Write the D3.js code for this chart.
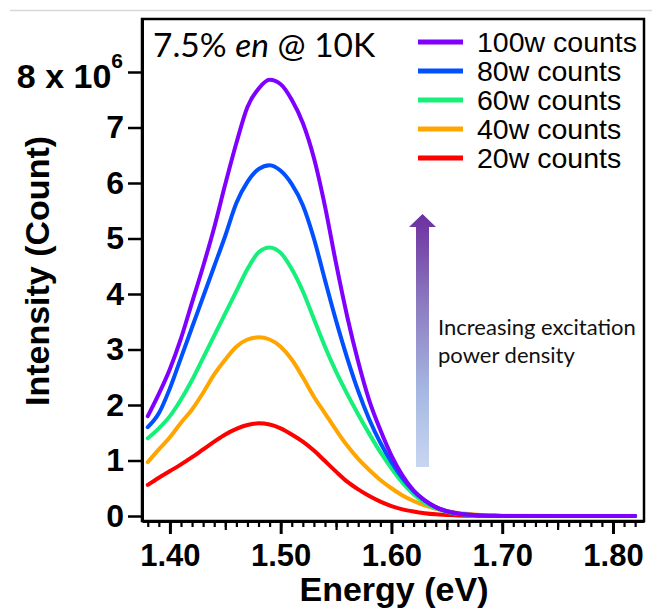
<!DOCTYPE html>
<html>
<head>
<meta charset="utf-8">
<script src="https://cdn.jsdelivr.net/npm/d3@7"></script>
<style>
  body { margin: 0; background: #fff; }
</style>
</head>
<body>
<div id="my_dataviz"></div>
<script>
// photon energy (eV)
var energy = [1.38, 1.39, 1.40, 1.41, 1.42, 1.43, 1.44, 1.45, 1.46, 1.47, 1.48,
  1.49, 1.50, 1.51, 1.52, 1.53, 1.54, 1.55, 1.56, 1.57, 1.58, 1.59, 1.60,
  1.61, 1.62, 1.63, 1.64, 1.65, 1.66, 1.67, 1.68, 1.69, 1.70, 1.75, 1.80, 1.82];

// intensity in units of 10^6 counts
var counts100 = [1.80, 2.20, 2.65, 3.20, 3.85, 4.50, 5.20, 5.98, 6.72, 7.37, 7.70,
  7.86, 7.78, 7.50, 7.08, 6.45, 5.58, 4.55, 3.60, 2.78, 2.08, 1.55, 1.09,
  0.73, 0.46, 0.28, 0.16, 0.085, 0.045, 0.022, 0.01, 0.005, 0, 0, 0, 0];
var counts80 = [1.60, 1.85, 2.30, 2.85, 3.40, 3.95, 4.50, 5.05, 5.64, 6.02, 6.25,
  6.32, 6.22, 5.98, 5.60, 5.00, 4.25, 3.52, 2.85, 2.25, 1.74, 1.32, 0.97,
  0.68, 0.45, 0.28, 0.16, 0.085, 0.045, 0.022, 0.01, 0.005, 0, 0, 0, 0];
var counts60 = [1.40, 1.58, 1.80, 2.10, 2.45, 2.85, 3.25, 3.65, 4.05, 4.45, 4.75,
  4.84, 4.74, 4.45, 4.05, 3.55, 3.05, 2.60, 2.20, 1.83, 1.48, 1.15, 0.86,
  0.60, 0.39, 0.24, 0.14, 0.075, 0.04, 0.02, 0.01, 0.005, 0, 0, 0, 0];
var counts40 = [0.97, 1.20, 1.42, 1.68, 1.92, 2.22, 2.55, 2.82, 3.05, 3.18, 3.22,
  3.18, 3.05, 2.82, 2.50, 2.15, 1.85, 1.55, 1.27, 1.03, 0.83, 0.65, 0.50,
  0.37, 0.27, 0.19, 0.13, 0.085, 0.055, 0.035, 0.02, 0.01, 0.005, 0, 0, 0];
var counts20 = [0.56, 0.69, 0.81, 0.93, 1.06, 1.20, 1.34, 1.47, 1.57, 1.64, 1.67,
  1.65, 1.58, 1.47, 1.34, 1.18, 0.99, 0.80, 0.62, 0.48, 0.36, 0.26, 0.18,
  0.12, 0.08, 0.05, 0.03, 0.02, 0.01, 0.005, 0, 0, 0, 0, 0, 0];

var seriesNames = ["100w counts", "80w counts", "60w counts", "40w counts", "20w counts"];
var seriesValues = [counts100, counts80, counts60, counts40, counts20];
var seriesColors = ["#8000ff", "#0050ff", "#14f07a", "#ffa500", "#ff0000"];

var xTicks = [1.40, 1.50, 1.60, 1.70, 1.80];
var yTicks = [0, 1, 2, 3, 4, 5, 6, 7, 8];

var W = 652, H = 609;
var plot = { left: 142, top: 19, right: 644, bottom: 521 };

var svg = d3.select("#my_dataviz")
  .append("svg")
  .attr("width", W)
  .attr("height", H);

// thin grey rule on top of the page
svg.append("line")
  .attr("x1", 10).attr("x2", W)
  .attr("y1", 10.5).attr("y2", 10.5)
  .attr("stroke", "#d8d8d8")
  .attr("stroke-width", 1.5);

var x = d3.scaleLinear()
  .domain([1.3748, 1.828])
  .range([plot.left, plot.right]);

var y = d3.scaleLinear()
  .domain([-0.09, 8.955])
  .range([plot.bottom, plot.top]);

var boldFont = "'Liberation Sans', Arial, Helvetica, sans-serif";
var softFont = "Lato, 'Open Sans', sans-serif";

// x axis: minor, medium and major ticks
var minorTicks = d3.range(138, 183).map(function (d) { return d / 100; });
var mediumTicks = [1.45, 1.55, 1.65, 1.75];

svg.append("g")
  .attr("transform", "translate(0," + plot.bottom + ")")
  .call(d3.axisBottom(x).tickValues(minorTicks).tickSize(6).tickSizeOuter(0).tickFormat(""))
  .call(function (g) {
    g.select(".domain").remove();
    g.selectAll("line").attr("stroke-width", 2.2);
  });

svg.append("g")
  .attr("transform", "translate(0," + plot.bottom + ")")
  .call(d3.axisBottom(x).tickValues(mediumTicks).tickSize(9).tickSizeOuter(0).tickFormat(""))
  .call(function (g) {
    g.select(".domain").remove();
    g.selectAll("line").attr("stroke-width", 2.2);
  });

svg.append("g")
  .attr("transform", "translate(0," + plot.bottom + ")")
  .call(d3.axisBottom(x).tickValues(xTicks).tickSize(13).tickSizeOuter(0)
    .tickPadding(10).tickFormat(d3.format(".2f")))
  .call(function (g) {
    g.select(".domain").attr("stroke-width", 3);
    g.selectAll("line").attr("stroke-width", 3);
    g.selectAll("text")
      .attr("font-family", boldFont)
      .attr("font-weight", "bold")
      .attr("font-size", 31)
      .attr("fill", "#000");
  });

// y axis
svg.append("g")
  .attr("transform", "translate(" + plot.left + ",0)")
  .call(d3.axisLeft(y).tickValues(yTicks).tickSize(14).tickSizeOuter(0)
    .tickPadding(4).tickFormat(function (d) { return d === 8 ? "" : d; }))
  .call(function (g) {
    g.select(".domain").attr("stroke-width", 3);
    g.selectAll("line").attr("stroke-width", 2.5);
    g.selectAll("text")
      .attr("font-family", boldFont)
      .attr("font-weight", "bold")
      .attr("font-size", 32)
      .attr("fill", "#000");
  });

var topLabel = svg.append("text")
  .attr("x", 123)
  .attr("y", y(8) + 16)
  .attr("text-anchor", "end")
  .attr("font-family", boldFont)
  .attr("font-weight", "bold")
  .attr("font-size", 34);
topLabel.append("tspan").text("8 x 10");
topLabel.append("tspan")
  .attr("font-size", 21)
  .attr("dy", -20)
  .text("6");

// frame
svg.append("rect")
  .attr("x", plot.left)
  .attr("y", plot.top)
  .attr("width", plot.right - plot.left)
  .attr("height", plot.bottom - plot.top)
  .attr("fill", "none")
  .attr("stroke", "#000")
  .attr("stroke-width", 2.5);

// axis titles
svg.append("text")
  .attr("x", 394)
  .attr("y", 601)
  .attr("text-anchor", "middle")
  .attr("font-family", boldFont)
  .attr("font-weight", "bold")
  .attr("font-size", 34)
  .text("Energy (eV)");

svg.append("text")
  .attr("transform", "translate(49,271) rotate(-90)")
  .attr("text-anchor", "middle")
  .attr("font-family", boldFont)
  .attr("font-weight", "bold")
  .attr("font-size", 34)
  .text("Intensity (Count)");

// spectra, weakest first so the strongest ends on top
var line = d3.line()
  .x(function (d) { return x(d[0]); })
  .y(function (d) { return y(d[1]); })
  .curve(d3.curveMonotoneX);

var order = [4, 3, 2, 1, 0];
svg.append("g")
  .selectAll("path")
  .data(order)
  .enter().append("path")
  .attr("d", function (i) {
    return line(energy.map(function (e, k) { return [e, seriesValues[i][k]]; }));
  })
  .attr("fill", "none")
  .attr("stroke", function (i) { return seriesColors[i]; })
  .attr("stroke-width", 4)
  .attr("stroke-linejoin", "round")
  .attr("stroke-linecap", "round");

// sample title
var title = svg.append("text")
  .attr("x", 153)
  .attr("y", 57)
  .attr("font-family", softFont)
  .attr("font-size", 33.5)
  .attr("fill", "#000");
title.append("tspan").text("7.5% ");
title.append("tspan").attr("font-style", "italic").text("en");
title.append("tspan").text(" @ 10K");

// legend
var legend = svg.append("g")
  .selectAll("g")
  .data(seriesNames)
  .enter().append("g")
  .attr("transform", function (d, i) { return "translate(418," + (42 + i * 29) + ")"; });

legend.append("line")
  .attr("x1", 0).attr("x2", 45)
  .attr("stroke", function (d, i) { return seriesColors[i]; })
  .attr("stroke-width", 5);

legend.append("text")
  .attr("x", 59)
  .attr("dy", "0.35em")
  .attr("font-family", boldFont)
  .attr("font-size", 28.5)
  .text(function (d) { return d; });

// gradient arrow
var defs = svg.append("defs");
var grad = defs.append("linearGradient")
  .attr("id", "arrowGrad")
  .attr("x1", 0).attr("y1", 1)
  .attr("x2", 0).attr("y2", 0);
grad.append("stop").attr("offset", "0%").attr("stop-color", "#c8d6f0");
grad.append("stop").attr("offset", "30%").attr("stop-color", "#a6b8e2");
grad.append("stop").attr("offset", "65%").attr("stop-color", "#8c7ac0");
grad.append("stop").attr("offset", "100%").attr("stop-color", "#6c2f9e");

svg.append("path")
  .attr("d", "M416,467 L416,227 L409,227 L422.5,214 L436,227 L429,227 L429,467 Z")
  .attr("fill", "url(#arrowGrad)");

var note = svg.append("text")
  .attr("font-family", softFont)
  .attr("font-size", 22)
  .attr("fill", "#111");
note.append("tspan").attr("x", 438).attr("y", 335).text("Increasing excitation");
note.append("tspan").attr("x", 438).attr("y", 363).text("power density");
</script>
</body>
</html>
